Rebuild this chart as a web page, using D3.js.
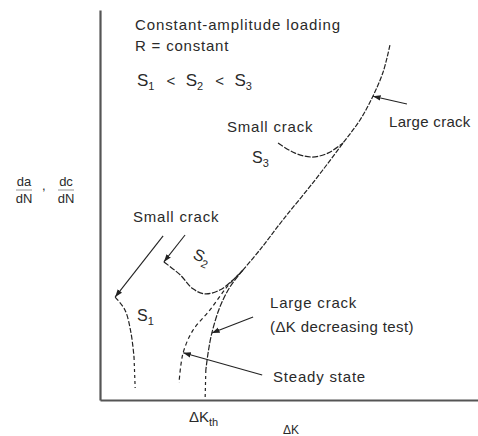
<!DOCTYPE html>
<html>
<head>
<meta charset="utf-8">
<script src="https://cdn.jsdelivr.net/npm/d3@7"></script>
<style>
  body { margin: 0; background: #fff; }
  svg text { font-family: "Liberation Sans", Arial, sans-serif; fill: #2a2a2a; }
</style>
</head>
<body>
<div id="chart"></div>
<script>
// schematic units: delta K and da/dN both run 0..100 (no real scale on the figure)
const large_crack = [[37.8,33.3],[42.3,38.5],[48.4,46.2],[56.9,56.4],[64.3,65.9],[68.8,71.8],[72.2,77.9],[74.9,84.1],[76.7,91.0]];
const decreasing_test = [[37.8,33.3],[34.4,29.0],[31.7,23.8],[29.6,17.2],[28.6,12.1],[28.0,7.7]];
const threshold_drop = [[28.0,7.7],[27.8,0]];
const steady_state = [[37.8,33.3],[33.6,29.0],[29.1,23.1],[24.6,17.9],[22.2,12.8],[21.4,9.0],[20.9,4.4]];
const small_s1 = [[4.0,26.4],[6.6,23.1],[8.2,17.2],[9.0,11.0]];
const small_s1_drop = [[9.0,11.0],[9.3,3.1]];
const small_s2 = [[16.9,35.4],[21.2,32.1],[24.6,28.5],[27.8,27.2],[31.7,28.2],[35.2,30.8],[37.8,33.3]];
const small_s3 = [[47.1,65.9],[51.6,63.3],[56.1,62.3],[60.3,63.3],[64.3,65.9]];
// leader lines: [from, to]
const pointers = [
  [[16.7,42.1],[4.0,26.4]],
  [[22.5,42.3],[16.9,35.4]],
  [[81.2,75.9],[72.2,77.9]],
  [[40.5,21.3],[29.6,17.2]],
  [[42.9,6.4],[22.0,12.1]]
];

const width = 478, height = 436;
const svg = d3.select("#chart")
  .append("svg")
  .attr("width", width)
  .attr("height", height);

const x = d3.scaleLinear().domain([0, 100]).range([100, 478]);
const y = d3.scaleLinear().domain([0, 100]).range([400, 10]);

svg.append("defs")
  .append("marker")
    .attr("id", "head")
    .attr("viewBox", "0 0 10 10")
    .attr("refX", 10)
    .attr("refY", 5)
    .attr("markerWidth", 7)
    .attr("markerHeight", 7)
    .attr("orient", "auto")
  .append("path")
    .attr("d", "M0,1.5L10,5L0,8.5Z")
    .attr("fill", "#222");

// axes, no ticks
const axis_g = svg.append("g").attr("class", "axes");
axis_g.append("g")
  .attr("transform", `translate(0,${y(0)})`)
  .call(d3.axisBottom(x).tickValues([]).tickSizeOuter(0));
axis_g.append("g")
  .attr("transform", `translate(${x(0)},0)`)
  .call(d3.axisLeft(y).tickValues([]).tickSizeOuter(0));
axis_g.selectAll(".domain")
  .attr("stroke", "#555")
  .attr("stroke-width", 2.2);

const line = d3.line()
  .x(d => x(d[0]))
  .y(d => y(d[1]))
  .curve(d3.curveCatmullRom.alpha(0.5));

const curves = [
  {pts: large_crack, dash: "5,1.5"},
  {pts: decreasing_test, dash: "6,1.5"},
  {pts: threshold_drop, dash: "3,3"},
  {pts: steady_state, dash: "4,3"},
  {pts: small_s1, dash: "5,2"},
  {pts: small_s1_drop, dash: "3,3"},
  {pts: small_s2, dash: "6,1.5"},
  {pts: small_s3, dash: "6,1.5"}
];
svg.append("g")
  .selectAll("path")
  .data(curves)
  .enter()
  .append("path")
    .attr("d", d => line(d.pts))
    .attr("fill", "none")
    .attr("stroke", "#222")
    .attr("stroke-width", 1.2)
    .attr("stroke-dasharray", d => d.dash);

svg.append("g")
  .selectAll("line")
  .data(pointers)
  .enter()
  .append("line")
    .attr("x1", d => x(d[0][0]))
    .attr("y1", d => y(d[0][1]))
    .attr("x2", d => x(d[1][0]))
    .attr("y2", d => y(d[1][1]))
    .attr("stroke", "#222")
    .attr("stroke-width", 1.1)
    .attr("marker-end", "url(#head)");

// text
const txt = (px, py, size, spacing) => svg.append("text")
  .attr("x", px)
  .attr("y", py)
  .attr("font-size", size)
  .attr("letter-spacing", spacing == undefined ? 0.8 : spacing);

txt(135, 30, 15, 0.9).text("Constant-amplitude loading");
txt(135, 51, 15).text("R = constant");

const order = txt(137, 86, 17, 0);
["1", "2", "3"].forEach((sub, i) => {
  order.append("tspan").attr("dx", i == 0 ? 0 : 10.5).text("S");
  order.append("tspan").attr("font-size", 11).attr("dy", 4).text(sub);
  if(i < 2)
    order.append("tspan").attr("font-size", 15).attr("dx", 12).attr("dy", -4).text("<");
});

const s_label = (px, py, sub, rot) => {
  const t = txt(px, py, 16, 0);
  if(rot) t.attr("transform", `rotate(${rot},${px},${py})`);
  t.append("tspan").text("S");
  t.append("tspan").attr("font-size", 11).attr("dy", 4).text(sub);
};

txt(227, 132, 15).text("Small crack");
s_label(252, 163, "3");
txt(389, 127, 15, 0.3).text("Large crack");

txt(133, 222, 15).text("Small crack");
s_label(192, 258, "2", 25);
s_label(137, 321, "1");

txt(270, 308, 15).text("Large crack");
txt(270, 332, 15, 0.4).text("(\u0394K decreasing test)");
txt(273, 382, 15).text("Steady state");

const kth = txt(189, 422, 15, 0);
kth.append("tspan").text("\u0394K");
kth.append("tspan").attr("font-size", 11).attr("dy", 4).text("th");
txt(283, 434, 12, 0).text("\u0394K");

// y label: da/dN , dc/dN
const frac = (px, top, bottom) => {
  txt(px, 186, 13, 0).attr("text-anchor", "middle").text(top);
  svg.append("line")
    .attr("x1", px - 8).attr("x2", px + 8)
    .attr("y1", 190).attr("y2", 190)
    .attr("stroke", "#777").attr("stroke-width", 0.8);
  txt(px, 203, 13, 0).attr("text-anchor", "middle").text(bottom);
};
frac(24, "da", "dN");
frac(66, "dc", "dN");
txt(42, 190, 13, 0).text(",");
</script>
</body>
</html>
